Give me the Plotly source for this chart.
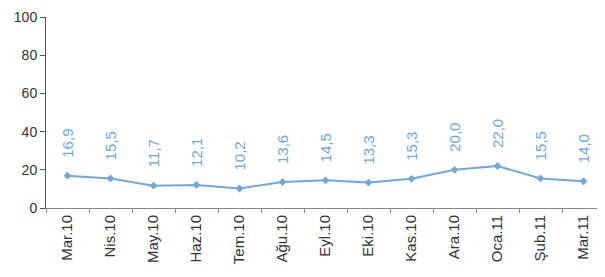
import plotly.graph_objects as go

categories = ["Mar.10", "Nis.10", "May.10", "Haz.10", "Tem.10", "Ağu.10", "Eyl.10",
              "Eki.10", "Kas.10", "Ara.10", "Oca.11", "Şub.11", "Mar.11"]
values = [16.9, 15.5, 11.7, 12.1, 10.2, 13.6, 14.5, 13.3, 15.3, 20.0, 22.0, 15.5, 14.0]
y_ticks = [0, 20, 40, 60, 80, 100]

blue = "#6fa8dc"
fig = go.Figure()
fig.add_trace(go.Scatter(
    x=categories, y=values, mode="lines+markers",
    line=dict(color=blue, width=2),
    marker=dict(symbol="diamond", size=6, color=blue),
    hoverinfo="skip",
))

for c, v in zip(categories, values):
    fig.add_annotation(
        x=c, y=v, text=f"{v:.1f}".replace(".", ","), showarrow=False,
        textangle=-90, yanchor="bottom", yshift=16,
        font=dict(family="Liberation Sans, Arial", size=15, color=blue),
    )

fig.update_layout(
    width=605, height=277,
    margin=dict(l=38, r=8, t=9, b=77),
    paper_bgcolor="white", plot_bgcolor="white",
    showlegend=False,
    font=dict(family="Liberation Sans, Arial", size=14, color="#333333"),
    xaxis=dict(
        type="category", tickangle=-90, showgrid=False, automargin=False,
        showline=True, linecolor="#888888", linewidth=1,
        ticks="outside", tickson="boundaries", ticklen=4, tickcolor="#888888",
        tickfont=dict(size=15), range=[-0.5, 12.5], ticklabeloverflow="allow",
    ),
    yaxis=dict(
        range=[0, 100], tickvals=y_ticks, showgrid=False, zeroline=False,
        automargin=False, ticklabeloverflow="allow",
        showline=True, linecolor="#555555", linewidth=1,
        ticks="outside", ticklen=5, tickcolor="#555555",
        tickfont=dict(size=14),
    ),
)

fig.write_html("out.html")
